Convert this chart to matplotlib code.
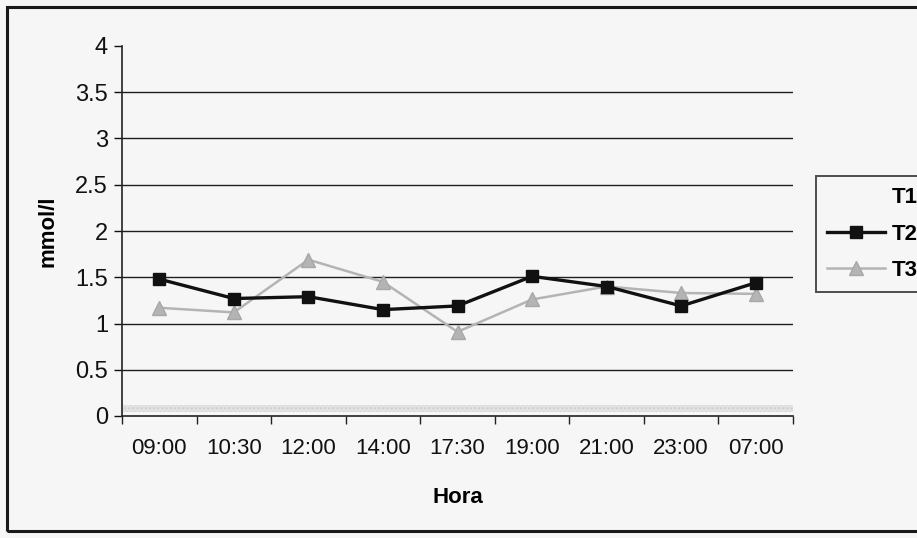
import matplotlib
matplotlib.use("Agg")
import matplotlib.pyplot as plt
from matplotlib.lines import Line2D
from matplotlib.patches import Rectangle

plt.rcParams['font.family'] = ['Liberation Sans', 'DejaVu Sans']

# Data
horas = ["09:00", "10:30", "12:00", "14:00", "17:30", "19:00", "21:00", "23:00", "07:00"]
t2 = [1.48, 1.27, 1.29, 1.15, 1.19, 1.51, 1.40, 1.19, 1.44]
t3 = [1.17, 1.12, 1.69, 1.45, 0.91, 1.26, 1.40, 1.33, 1.32]
y_ticks = [0, 0.5, 1, 1.5, 2, 2.5, 3, 3.5, 4]
y_tick_labels = ["0", "0.5", "1", "1.5", "2", "2.5", "3", "3.5", "4"]

W, H = 917, 538
BG = '#f6f6f6'
fig = plt.figure(figsize=(W / 100, H / 100), dpi=100, facecolor=BG)
ax = fig.add_axes([122 / W, (H - 416) / H, (793 - 122) / W, (416 - 46) / H])
ax.set_facecolor(BG)

x = list(range(1, len(horas) + 1))

# Gridlines at every 0.5 between 0.5 and 3.5
for v in y_ticks[1:-1]:
    ax.axhline(v, color='#1e1e1e', lw=1.0, zorder=1)

# Faint dotted band just above the baseline
ax.axhspan(0.04, 0.12, facecolor='#e2e2e2', edgecolor='#cfcfcf',
           hatch='....', zorder=1, lw=0)

ax.plot(x, t3, color='#b4b4b4', lw=1.8, marker='^', markersize=10,
        markerfacecolor='#b4b4b4', markeredgecolor='#a8a8a8', zorder=3)
ax.plot(x, t2, color='#111111', lw=2.4, marker='s', markersize=9,
        markerfacecolor='#111111', markeredgecolor='#111111', zorder=4)

ax.set_xlim(0.5, len(horas) + 0.5)
ax.set_ylim(0, 4)

for s in ['top', 'right']:
    ax.spines[s].set_visible(False)
for s in ['left', 'bottom']:
    ax.spines[s].set_color('#222222')
    ax.spines[s].set_linewidth(1.2)

ax.set_yticks(y_ticks)
ax.set_yticklabels(y_tick_labels)
ax.tick_params(axis='y', direction='out', length=6, width=1, pad=4,
               labelsize=17, colors='#111111')

ax.set_xticks(x)
ax.set_xticklabels(horas)
ax.set_xticks([i + 0.5 for i in range(0, len(horas) + 1)], minor=True)
ax.tick_params(axis='x', which='major', length=0, pad=16, labelsize=16,
               colors='#111111')
ax.tick_params(axis='x', which='minor', direction='out', length=6, width=1,
               color='#222222')

ax.set_xlabel("Hora", fontsize=16, fontweight='bold', labelpad=20)
ax.set_ylabel("mmol/l", fontsize=16, fontweight='bold', labelpad=12)

handles = [
    Line2D([], [], color='none'),
    Line2D([], [], color='#111111', lw=2.4, marker='s', markersize=9),
    Line2D([], [], color='#b4b4b4', lw=1.8, marker='^', markersize=10,
           markeredgecolor='#a8a8a8'),
]
leg = fig.legend(handles, ["T1", "T2", "T3"], loc='upper left',
                 bbox_to_anchor=(816 / W, (H - 176) / H),
                 prop={'weight': 'bold', 'size': 16}, frameon=True,
                 fancybox=False, edgecolor='#222222', facecolor=BG,
                 handlelength=2.6, labelspacing=0.7, borderpad=0.5,
                 handletextpad=0.3, borderaxespad=0)
leg.get_frame().set_linewidth(1.4)

# Outer frame around the chart area
fig.add_artist(Rectangle((7 / W, (H - 531) / H), 1.2, (531 - 7) / H,
                         transform=fig.transFigure, fill=False,
                         edgecolor='#1a1a1a', lw=2.2, zorder=0))

fig.savefig("out.png", dpi=100, facecolor=fig.get_facecolor())
